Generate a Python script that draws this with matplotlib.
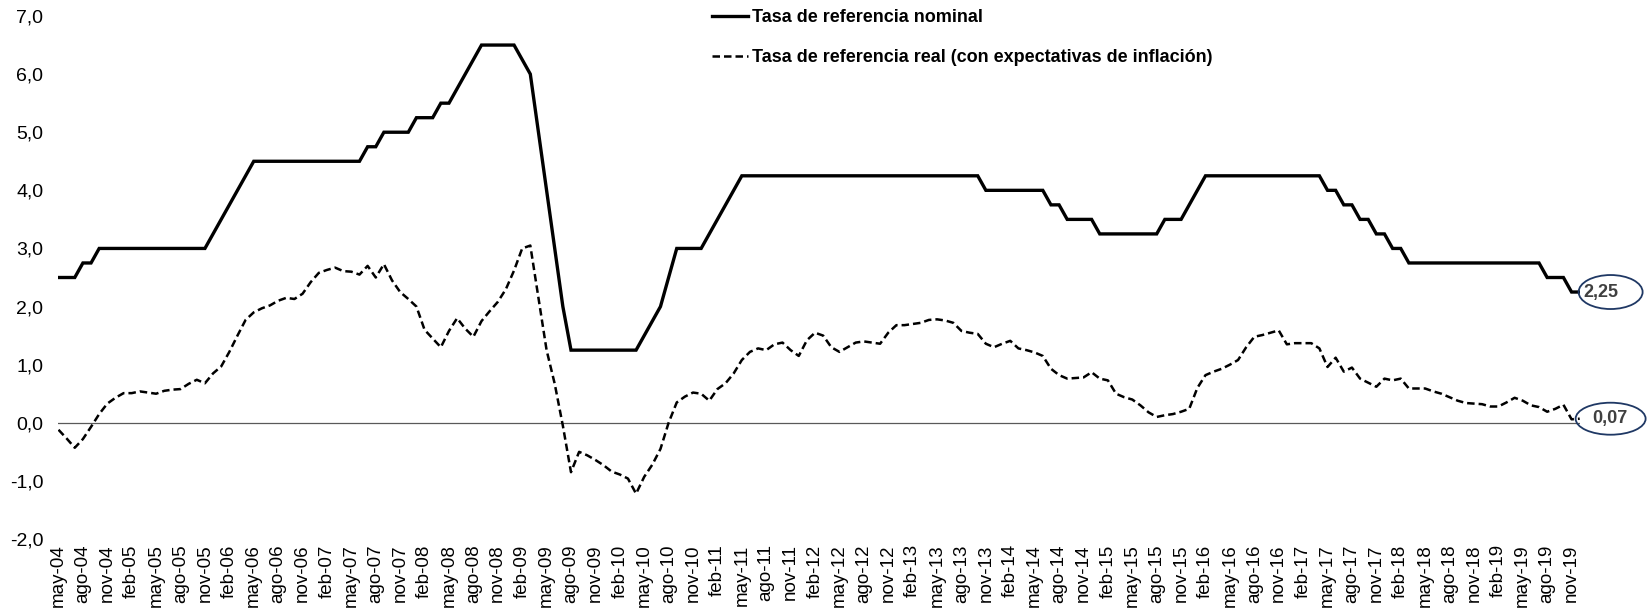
import matplotlib
matplotlib.use("Agg")
import matplotlib.pyplot as plt
from matplotlib.patches import Ellipse
from matplotlib.font_manager import FontProperties

# ---------------- data ----------------
month_abbr = ["ene", "feb", "mar", "abr", "may", "jun",
              "jul", "ago", "sep", "oct", "nov", "dic"]
start_year, start_month = 2004, 5   # may-04
n_months = 188                      # may-04 ... dic-19

nominal = (
    [2.5, 2.5, 2.5, 2.75, 2.75] + [3.0] * 14 +
    [3.25, 3.5, 3.75, 4.0, 4.25] + [4.5] * 14 +
    [4.75, 4.75] + [5.0] * 4 + [5.25] * 3 + [5.5] * 2 +
    [5.75, 6.0, 6.25] + [6.5] * 5 +
    [6.25, 6.0, 5.0, 4.0, 3.0, 2.0] + [1.25] * 9 +
    [1.5, 1.75, 2.0, 2.5] + [3.0] * 4 +
    [3.25, 3.5, 3.75, 4.0] + [4.25] * 30 +
    [4.0] * 8 + [3.75] * 2 + [3.5] * 4 + [3.25] * 8 + [3.5] * 3 +
    [3.75, 4.0] + [4.25] * 15 +
    [4.0, 4.0, 3.75, 3.75, 3.5, 3.5, 3.25, 3.25, 3.0, 3.0] +
    [2.75] * 17 + [2.5] * 3 + [2.25] * 2
)

real = [
    -0.12, -0.27, -0.43, -0.28, -0.07, 0.15, 0.33, 0.43, 0.51, 0.51,
    0.54, 0.52, 0.50, 0.55, 0.57, 0.58, 0.67, 0.74, 0.68, 0.85,
    0.97, 1.22, 1.50, 1.77, 1.90, 1.97, 2.02, 2.10, 2.15, 2.13,
    2.22, 2.42, 2.58, 2.63, 2.67, 2.61, 2.60, 2.55, 2.70, 2.50,
    2.73, 2.45, 2.25, 2.13, 2.00, 1.60, 1.45, 1.30, 1.58, 1.80,
    1.62, 1.48, 1.75, 1.92, 2.08, 2.30, 2.62, 3.00, 3.05, 2.15,
    1.25, 0.67, -0.05, -0.85, -0.50, -0.56, -0.64, -0.73, -0.84, -0.89,
    -0.96, -1.22, -0.93, -0.72, -0.45, 0.00, 0.35, 0.45, 0.52, 0.50,
    0.38, 0.58, 0.68, 0.85, 1.08, 1.22, 1.28, 1.25, 1.35, 1.38,
    1.25, 1.15, 1.42, 1.55, 1.50, 1.30, 1.22, 1.30, 1.38, 1.40,
    1.38, 1.36, 1.55, 1.68, 1.68, 1.70, 1.72, 1.77, 1.78, 1.76,
    1.72, 1.58, 1.55, 1.53, 1.36, 1.30, 1.36, 1.41, 1.28, 1.25,
    1.21, 1.15, 0.93, 0.82, 0.76, 0.77, 0.78, 0.87, 0.76, 0.73,
    0.50, 0.44, 0.40, 0.30, 0.18, 0.10, 0.13, 0.15, 0.19, 0.24,
    0.60, 0.82, 0.88, 0.93, 1.00, 1.08, 1.30, 1.48, 1.51, 1.55,
    1.59, 1.35, 1.37, 1.37, 1.37, 1.28, 0.96, 1.12, 0.88, 0.95,
    0.76, 0.69, 0.62, 0.76, 0.73, 0.76, 0.59, 0.59, 0.59, 0.54,
    0.50, 0.44, 0.38, 0.34, 0.33, 0.32, 0.28, 0.28, 0.35, 0.43,
    0.38, 0.30, 0.27, 0.19, 0.24, 0.31, 0.06, 0.07,
]

labels_all = []
for i in range(n_months):
    m = (start_month - 1 + i) % 12
    y = start_year + (start_month - 1 + i) // 12
    labels_all.append(f"{month_abbr[m]}-{y % 100:02d}")

tick_step = 3
y_ticks = [-2, -1, 0, 1, 2, 3, 4, 5, 6, 7]
legend_labels = ["Tasa de referencia nominal",
                 "Tasa de referencia real (con expectativas de inflación)"]

x = list(range(n_months))
assert len(nominal) == n_months and len(real) == n_months

# ---------------- figure ----------------
W, H = 1647, 613
fig = plt.figure(figsize=(W / 100, H / 100), dpi=100)
ax_left, ax_right = 58.5, 1579.7
ax_top, ax_bot = 16, 539
ax = fig.add_axes([ax_left / W, 1 - ax_bot / H,
                   (ax_right - ax_left) / W, (ax_bot - ax_top) / H])
ax.set_xlim(0, n_months - 1)
ax.set_ylim(-2, 7)

fam = ["Liberation Sans", "DejaVu Sans"]

ax.axhline(0, color="#595959", lw=0.9, zorder=1)
l1, = ax.plot(x, nominal, color="black", lw=2.4, solid_joinstyle="miter",
              zorder=3)
l2, = ax.plot(x, real, color="black", lw=1.8, dashes=(3.0, 1.6), zorder=3)

for s in ax.spines.values():
    s.set_visible(False)

ax.set_yticks(y_ticks)
ax.set_yticklabels([f"{v:.1f}".replace(".", ",") for v in y_ticks],
                   fontfamily=fam, fontsize=14)
ticks_x = x[::tick_step]
ax.set_xticks(ticks_x)
ax.set_xticklabels(labels_all[::tick_step], rotation=90,
                   fontfamily=fam, fontsize=13.5)
ax.tick_params(axis="y", length=0, pad=11)
ax.tick_params(axis="x", length=0, pad=3.8)

leg_font = FontProperties(family=fam, weight="bold", size=13)
ax.legend([l1, l2], legend_labels, loc="upper left",
          bbox_to_anchor=(712 / W, 1 - 9.5 / H), bbox_transform=fig.transFigure,
          frameon=False, handlelength=2.0, handletextpad=0.2,
          labelspacing=1.25, borderpad=0, borderaxespad=0, prop=leg_font)

# end-value callouts
px_per_month = (ax_right - ax_left) / (n_months - 1)
px_per_unit = (ax_bot - ax_top) / 9.0
xl = x[-1]
callouts = [(nominal[-1], 64, 34, 2.6), (real[-1], 70, 32, 3.7)]
for val, wpx, hpx, tx in callouts:
    e = Ellipse((xl + 3.8, val), width=wpx / px_per_month,
                height=hpx / px_per_unit, fill=False, edgecolor="#1F3864",
                lw=1.3, clip_on=False, zorder=4)
    ax.add_patch(e)
    ax.text(xl + tx, val, f"{val:.2f}".replace(".", ","), ha="center",
            va="center", fontfamily=fam, fontweight="bold", fontsize=13,
            color="#404040", clip_on=False, zorder=5)

fig.savefig("out.png", dpi=100)
